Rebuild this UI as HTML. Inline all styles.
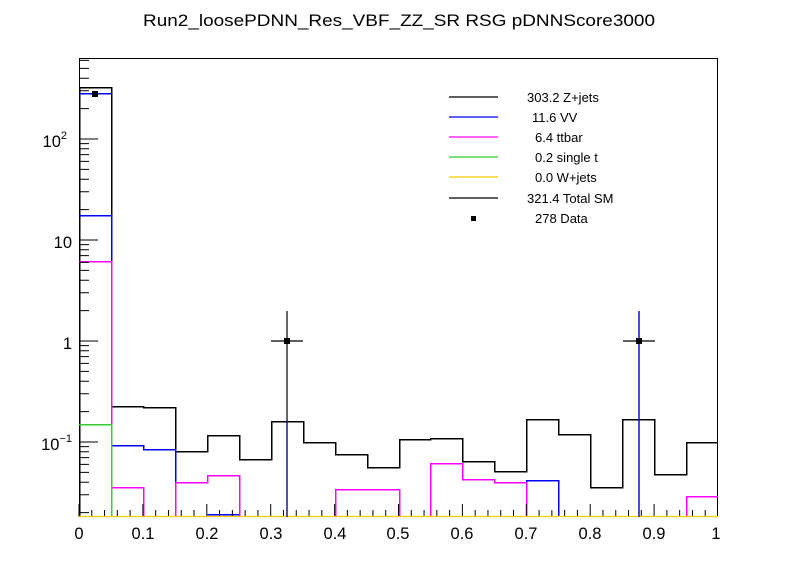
<!DOCTYPE html>
<html><head><meta charset="utf-8"><style>
html,body{margin:0;padding:0;background:#fff;}
svg{display:block;font-family:"Liberation Sans",sans-serif;}
</style></head><body>
<svg width="798" height="575" viewBox="0 0 798 575" xmlns="http://www.w3.org/2000/svg">
<rect width="798" height="575" fill="#fff"/>
<text x="399" y="26" font-size="17" text-anchor="middle" textLength="512" lengthAdjust="spacingAndGlyphs">Run2_loosePDNN_Res_VBF_ZZ_SR RSG  pDNNScore3000</text>
<g shape-rendering="crispEdges">
<rect x="79.5" y="58.5" width="638" height="458" fill="none" stroke="#000" stroke-width="1"/>
<path d="M79.5,517 V87.5 H111.5 V406.5 H143.5 V407.5 H175.5 V451.5 H207.5 V435.5 H239.5 V459.5 H271.5 V421.5 H303.5 V442.5 H335.5 V454.5 H367.5 V467.5 H399.5 V439.5 H430.5 V438.5 H462.5 V461.5 H494.5 V471.5 H526.5 V419.5 H558.5 V434.5 H590.5 V487.5 H622.5 V419.5 H654.5 V474.5 H686.5 V442.5 H718" fill="none" stroke="#000" stroke-width="1.5"/>
<path d="M79,93.5 H111" stroke="#0000ee" stroke-width="1.5" fill="none"/>
<path d="M79,215.5 H111.5 V445.5 H143.5 V449.5 H175.5 V517 M207.5,514.5 H239.5 V517 M526.5,517 V480.5 H558.5 V517" stroke="#0000ee" stroke-width="1.5" fill="none"/>
<path d="M79,261.5 H111.5 V487.5 H143.5 V517 M111.5,261.5 V424 M175.5,517 V482.5 H207.5 V475.5 H239.5 V517 M335.5,517 V489.5 H399.5 V517 M430.5,517 V463.5 H462.5 V479.5 H494.5 V482.5 H526.5 V517 M686.5,517 V496.5 H718" stroke="#ff00ff" stroke-width="1.5" fill="none"/>
<path d="M79,424.5 H111.5 V517" stroke="#33cc33" stroke-width="1.5" fill="none"/>
</g>
<path stroke="#000" stroke-width="1" fill="none" d="
M79,517v-13 M91.78,517v-7 M104.56,517v-7 M117.34,517v-7 M130.12,517v-7 M142.9,517v-13 M155.68,517v-7 M168.46,517v-7 M181.24,517v-7 M194.02,517v-7
M206.8,517v-13 M219.58,517v-7 M232.36,517v-7 M245.14,517v-7 M257.92,517v-7 M270.7,517v-13 M283.48,517v-7 M296.26,517v-7 M309.04,517v-7 M321.82,517v-7
M334.6,517v-13 M347.38,517v-7 M360.16,517v-7 M372.94,517v-7 M385.72,517v-7 M398.5,517v-13 M411.28,517v-7 M424.06,517v-7 M436.84,517v-7 M449.62,517v-7
M462.4,517v-13 M475.18,517v-7 M487.96,517v-7 M500.74,517v-7 M513.52,517v-7 M526.3,517v-13 M539.08,517v-7 M551.86,517v-7 M564.64,517v-7 M577.42,517v-7
M590.2,517v-13 M602.98,517v-7 M615.76,517v-7 M628.54,517v-7 M641.32,517v-7 M654.1,517v-13 M666.88,517v-7 M679.66,517v-7 M692.44,517v-7 M705.22,517v-7
M79,512.6h10 M79,494.8h10 M79,482.2h10 M79,472.4h10 M79,464.4h10 M79,457.6h10 M79,451.8h10 M79,446.6h10
M79,442h19 M79,411.6h10 M79,393.8h10 M79,381.2h10 M79,371.4h10 M79,363.4h10 M79,356.6h10 M79,350.8h10 M79,345.6h10
M79,341h19 M79,310.6h10 M79,292.8h10 M79,280.2h10 M79,270.4h10 M79,262.4h10 M79,255.6h10 M79,249.8h10 M79,244.6h10
M79,240h19 M79,209.6h10 M79,191.8h10 M79,179.2h10 M79,169.4h10 M79,161.4h10 M79,154.6h10 M79,148.8h10 M79,143.6h10
M79,139h19 M79,108.6h10 M79,90.8h10 M79,78.2h10 M79,68.4h10 M79,60.4h10"/>
<path d="M79,516.5 H718" stroke="#ffcc00" stroke-width="1.2"/>
<g stroke="#000" stroke-width="1.2">
<path d="M271,341 H303 M287,311 V517"/>
<path d="M623,341 H655"/>
</g>
<path d="M287,420 V517" stroke="#000099" stroke-width="1.2"/>
<path d="M639,311 V517" stroke="#0000cc" stroke-width="1.4"/>
<rect x="92" y="91" width="6" height="6" fill="#000"/>
<rect x="284" y="338" width="6" height="6" fill="#000"/>
<rect x="636" y="338" width="6" height="6" fill="#000"/>
<g font-size="16.5" text-anchor="middle">
<text x="79" y="539">0</text><text x="143" y="539">0.1</text><text x="207" y="539">0.2</text><text x="271" y="539">0.3</text><text x="335" y="539">0.4</text><text x="398" y="539">0.5</text><text x="462" y="539">0.6</text><text x="526" y="539">0.7</text><text x="590" y="539">0.8</text><text x="654" y="539">0.9</text><text x="716" y="539">1</text>
</g>
<g font-size="16.5" text-anchor="end">
<text x="67" y="147">10<tspan font-size="11" dy="-8">2</tspan></text>
<text x="72" y="248">10</text>
<text x="72" y="349">1</text>
<text x="72" y="450">10<tspan font-size="11" dy="-8">−1</tspan></text>
</g>
<g stroke-width="1.2">
<path d="M449,97 H498" stroke="#000"/>
<path d="M449,117 H498" stroke="#0000ee"/>
<path d="M449,137 H498" stroke="#ff00ff"/>
<path d="M449,157 H498" stroke="#33cc33"/>
<path d="M449,177 H498" stroke="#ffcc00"/>
<path d="M449,198 H498" stroke="#000"/>
</g>
<rect x="471" y="216" width="5" height="5" fill="#000"/>
<g font-size="13">
<text x="527" y="102">303.2 Z+jets</text>
<text x="532" y="122">11.6 VV</text>
<text x="535" y="142">6.4 ttbar</text>
<text x="535" y="162">0.2 single t</text>
<text x="535" y="182">0.0 W+jets</text>
<text x="527" y="203">321.4 Total SM</text>
<text x="535" y="223">278 Data</text>
</g>
</svg>
</body></html>
